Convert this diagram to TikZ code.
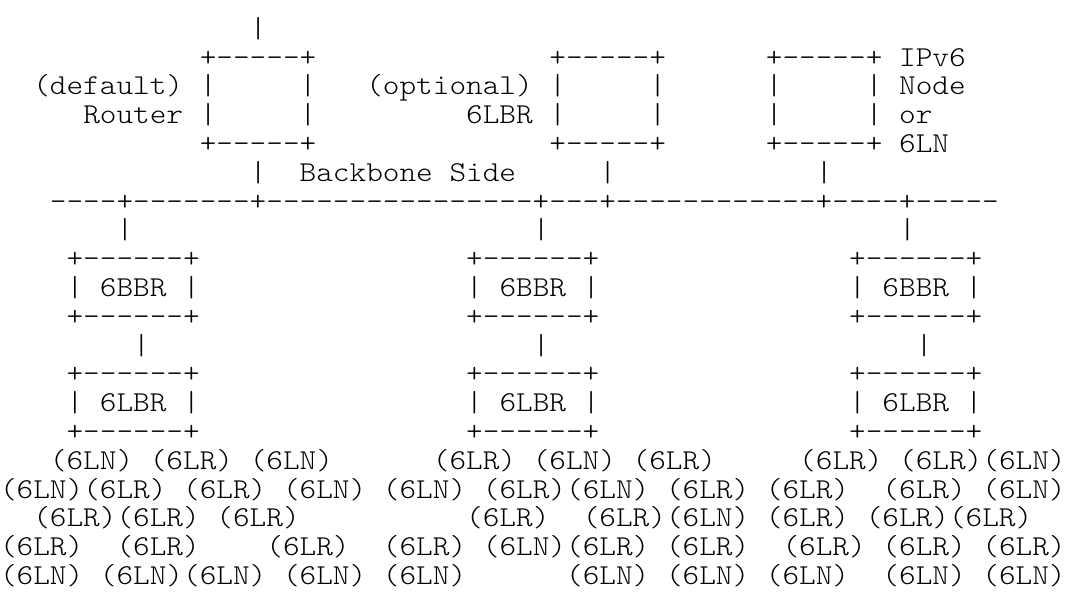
\documentclass[tikz,border=0pt]{standalone}
\usepackage{fontspec}
\newfontfamily\asciifont[Extension=.otf, FakeStretch=1.1]{lmmonolt10-regular}
\tikzset{
  tok/.style={anchor=base west, inner sep=0pt, outer sep=0pt,
    font=\asciifont\fontsize{21.62pt}{24pt}\selectfont, text=black}
}
% \tk{row}{col}{text}: one token of the ASCII figure, named r<row>c<col>
\newcommand{\tk}[3]{\node[tok] (r#1c#2) at ({16.65*#2},{37.3+28.8*(#1-1)}) {#3};}
\begin{document}
\begin{tikzpicture}[x=0.75pt,y=-0.75pt]
\path[use as bounding box] (0,0) rectangle (1072,595);
% row 1
\tk{1}{15}{|}
% row 2
\tk{2}{12}{+-----+}\tk{2}{33}{+-----+}\tk{2}{46}{+-----+}\tk{2}{54}{IPv6}
% row 3
\tk{3}{2}{(default)}\tk{3}{12}{|}\tk{3}{18}{|}
\tk{3}{22}{(optional)}\tk{3}{33}{|}\tk{3}{39}{|}
\tk{3}{46}{|}\tk{3}{52}{|}\tk{3}{54}{Node}
% row 4
\tk{4}{5}{Router}\tk{4}{12}{|}\tk{4}{18}{|}
\tk{4}{28}{6LBR}\tk{4}{33}{|}\tk{4}{39}{|}
\tk{4}{46}{|}\tk{4}{52}{|}\tk{4}{54}{or}
% row 5
\tk{5}{12}{+-----+}\tk{5}{33}{+-----+}\tk{5}{46}{+-----+}\tk{5}{54}{6LN}
% row 6
\tk{6}{15}{|}\tk{6}{18}{Backbone}\tk{6}{27}{Side}\tk{6}{36}{|}\tk{6}{49}{|}
% row 7: backbone
\tk{7}{3}{----+-------+----------------+---+------------+----+-----}
% row 8
\tk{8}{7}{|}\tk{8}{32}{|}\tk{8}{54}{|}
% boxes
\foreach \c in {4,28,51}{
  \tk{9}{\c}{+------+}
  \tk{11}{\c}{+------+}
  \tk{13}{\c}{+------+}
  \tk{15}{\c}{+------+}
}
\tk{10}{4}{|}\tk{10}{6}{6BBR}\tk{10}{11}{|}
\tk{10}{28}{|}\tk{10}{30}{6BBR}\tk{10}{35}{|}
\tk{10}{51}{|}\tk{10}{53}{6BBR}\tk{10}{58}{|}
% row 12
\tk{12}{8}{|}\tk{12}{32}{|}\tk{12}{55}{|}
% row 14
\tk{14}{4}{|}\tk{14}{6}{6LBR}\tk{14}{11}{|}
\tk{14}{28}{|}\tk{14}{30}{6LBR}\tk{14}{35}{|}
\tk{14}{51}{|}\tk{14}{53}{6LBR}\tk{14}{58}{|}
% row 16
\tk{16}{3}{(6LN)}\tk{16}{9}{(6LR)}\tk{16}{15}{(6LN)}
\tk{16}{26}{(6LR)}\tk{16}{32}{(6LN)}\tk{16}{38}{(6LR)}
\tk{16}{48}{(6LR)}\tk{16}{54}{(6LR)}\tk{16}{59}{(6LN)}
% row 17
\tk{17}{0}{(6LN)}\tk{17}{5}{(6LR)}\tk{17}{11}{(6LR)}\tk{17}{17}{(6LN)}
\tk{17}{23}{(6LN)}\tk{17}{29}{(6LR)}\tk{17}{34}{(6LN)}\tk{17}{40}{(6LR)}
\tk{17}{46}{(6LR)}\tk{17}{53}{(6LR)}\tk{17}{59}{(6LN)}
% row 18
\tk{18}{2}{(6LR)}\tk{18}{7}{(6LR)}\tk{18}{13}{(6LR)}
\tk{18}{28}{(6LR)}\tk{18}{35}{(6LR)}\tk{18}{40}{(6LN)}
\tk{18}{46}{(6LR)}\tk{18}{52}{(6LR)}\tk{18}{57}{(6LR)}
% row 19
\tk{19}{0}{(6LR)}\tk{19}{7}{(6LR)}\tk{19}{16}{(6LR)}
\tk{19}{23}{(6LR)}\tk{19}{29}{(6LN)}\tk{19}{34}{(6LR)}\tk{19}{40}{(6LR)}
\tk{19}{47}{(6LR)}\tk{19}{53}{(6LR)}\tk{19}{59}{(6LR)}
% row 20
\tk{20}{0}{(6LN)}\tk{20}{6}{(6LN)}\tk{20}{11}{(6LN)}\tk{20}{17}{(6LN)}\tk{20}{23}{(6LN)}
\tk{20}{34}{(6LN)}\tk{20}{40}{(6LN)}
\tk{20}{46}{(6LN)}\tk{20}{53}{(6LN)}\tk{20}{59}{(6LN)}
\end{tikzpicture}
\end{document}
